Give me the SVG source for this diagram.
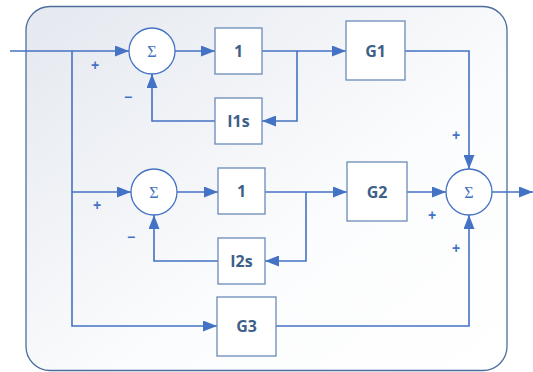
<svg xmlns="http://www.w3.org/2000/svg" width="533" height="372" viewBox="0 0 533 372">
<defs>
<linearGradient id="bg" x1="0" y1="0" x2="1" y2="1">
<stop offset="0" stop-color="#e4e8ef"/>
<stop offset="0.6" stop-color="#fbfcfd"/>
<stop offset="1" stop-color="#ffffff"/>
</linearGradient>
<marker id="ah" markerWidth="14" markerHeight="11" refX="14" refY="5.5" orient="auto" markerUnits="userSpaceOnUse">
<path d="M0,0 L14,5.5 L0,11 Z" fill="#4472c4"/>
</marker>
<style>
.box{fill:#ffffff;stroke:#6a8bb8;stroke-width:1.3}
.sum{fill:#ffffff;stroke:#4472c4;stroke-width:1.3}
.lbl{font-family:"Open Sans","Liberation Sans",sans-serif;font-weight:bold;font-size:16px;fill:#3e5f87;text-anchor:middle;dominant-baseline:central}
.sig{font-family:"Liberation Serif","DejaVu Serif",serif;font-size:16px;fill:#4472c4;text-anchor:middle;dominant-baseline:central}
.sgn{font-family:"Liberation Sans",sans-serif;font-weight:bold;font-size:14px;fill:#4472c4;text-anchor:middle;dominant-baseline:central}
.c{fill:none;stroke:#4472c4;stroke-width:1.6}
</style>
</defs>
<rect x="26" y="6.5" width="481" height="364" rx="24" ry="24" fill="url(#bg)" stroke="#4d6e9c" stroke-width="1.3"/>
<g id="connectors">
<path class="c" d="M10,51 H129" marker-end="url(#ah)"/>
<path class="c" d="M72,51 V326 H217" marker-end="url(#ah)"/>
<path class="c" d="M72,192 H131" marker-end="url(#ah)"/>
<path class="c" d="M175,51 H215" marker-end="url(#ah)"/>
<path class="c" d="M262,51 H346" marker-end="url(#ah)"/>
<path class="c" d="M297,51 V121 H262" marker-end="url(#ah)"/>
<path class="c" d="M215,121 H152 V74" marker-end="url(#ah)"/>
<path class="c" d="M405,51 H469 V169" marker-end="url(#ah)"/>
<path class="c" d="M177,192 H218" marker-end="url(#ah)"/>
<path class="c" d="M265,192 H347" marker-end="url(#ah)"/>
<path class="c" d="M306,192 V261 H265" marker-end="url(#ah)"/>
<path class="c" d="M218,261 H154 V215" marker-end="url(#ah)"/>
<path class="c" d="M407,192 H446" marker-end="url(#ah)"/>
<path class="c" d="M276,326 H469 V215" marker-end="url(#ah)"/>
<path class="c" d="M492,192 H533" marker-end="url(#ah)"/>
</g>
<g id="sum1"><circle class="sum" cx="152" cy="51" r="23"/><text class="sig" x="152" y="51">Σ</text></g>
<g id="one1"><rect class="box" x="215" y="28" width="47" height="46"/><text class="lbl" x="238.5" y="51">1</text></g>
<g id="I1s"><rect class="box" x="215" y="98" width="47" height="46"/><text class="lbl" x="238.5" y="121">I1s</text></g>
<g id="G1"><rect class="box" x="346" y="21" width="59" height="59"/><text class="lbl" x="375.5" y="51">G1</text></g>
<g id="sum2"><circle class="sum" cx="154" cy="192" r="23"/><text class="sig" x="154" y="192">Σ</text></g>
<g id="one2"><rect class="box" x="218" y="168" width="47" height="46"/><text class="lbl" x="241.5" y="191">1</text></g>
<g id="I2s"><rect class="box" x="218" y="238" width="47" height="46"/><text class="lbl" x="241.5" y="261">I2s</text></g>
<g id="G2"><rect class="box" x="347" y="162" width="60" height="59"/><text class="lbl" x="377" y="192">G2</text></g>
<g id="G3"><rect class="box" x="217" y="297" width="59" height="59"/><text class="lbl" x="246.5" y="326">G3</text></g>
<g id="sum3"><circle class="sum" cx="469" cy="192" r="23"/><text class="sig" x="469" y="192">Σ</text></g>
<g id="signs">
<text class="sgn" x="95" y="65">+</text>
<text class="sgn" x="128" y="97">−</text>
<text class="sgn" x="97" y="205">+</text>
<text class="sgn" x="131" y="237">−</text>
<text class="sgn" x="456" y="135">+</text>
<text class="sgn" x="432" y="215">+</text>
<text class="sgn" x="456" y="248">+</text>
</g>
</svg>
